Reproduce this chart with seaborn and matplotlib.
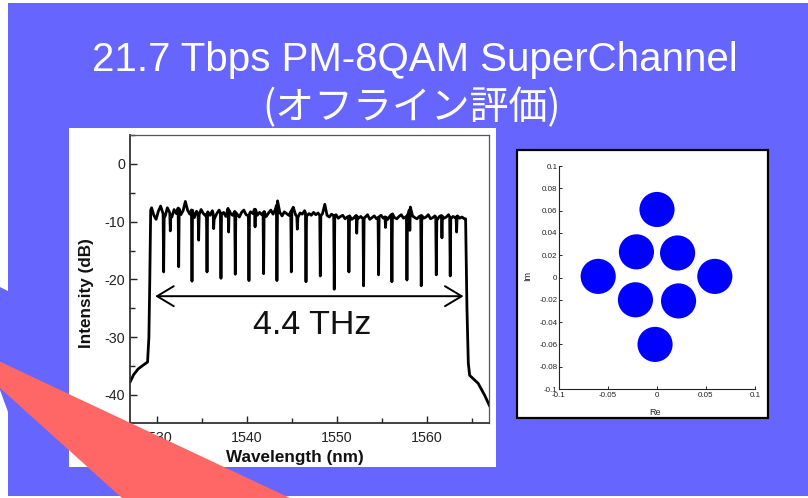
import numpy as np
import pandas as pd
import seaborn as sns
import matplotlib
matplotlib.use("Agg")
import matplotlib.pyplot as plt
from matplotlib.patches import Rectangle, Polygon
from matplotlib.ticker import MultipleLocator, FixedLocator, FixedFormatter

# ---------------- data ----------------
title_line1 = "21.7 Tbps PM-8QAM SuperChannel"
title_line2 = "(オフライン評価)"

# spectrum: rising edge, flat top, falling edge (wavelength nm / intensity dB)
rise_wl = [1527.0, 1527.4, 1527.9, 1528.5, 1528.95, 1529.1, 1529.2, 1529.3]
rise_db = [-37.8, -36.5, -35.5, -34.8, -34.3, -30.0, -20.0, -8.0]

plateau_start, plateau_step = 1529.4, 0.25
plateau_db = [
    -7.6, -8.9, -9.6, -8.2, -7.3, -8.5, -9.1, -7.6, -8.4, -9.2, -7.9, -8.6, -7.4,
    -8.8, -8.1, -6.5, -8.0, -8.7, -7.7, -9.3, -8.2, -8.9, -7.9, -8.6, -9.0,
    -8.3, -8.9, -8.1, -9.4, -8.6, -8.0, -8.8, -8.4, -9.1, -7.7, -8.5, -8.9,
    -8.2, -8.7, -9.2, -8.4, -8.0, -8.8, -9.0, -8.3, -8.6, -7.6, -8.9, -8.4,
    -8.8, -8.2, -9.1, -8.5, -8.0, -8.7, -7.9, -6.4, -8.4, -9.0, -8.3, -8.6,
    -8.9, -8.2, -7.5, -8.8, -9.3, -8.5, -8.7, -8.1, -9.0, -8.6, -8.9, -8.4,
    -8.8, -8.5, -9.1, -8.6, -7.0, -8.9, -9.2, -8.7, -9.0, -8.8, -9.4, -9.1,
    -8.9, -9.5, -9.2, -9.0, -9.6, -9.3, -8.9, -9.4, -9.1, -9.5, -9.2, -8.8,
    -9.6, -9.3, -9.0, -9.5, -9.2, -8.9, -9.4, -9.1, -9.6, -9.0, -8.6, -9.3,
    -9.5, -9.1, -8.8, -9.4, -9.2, -8.7, -7.4, -9.0, -9.3, -9.5, -9.1, -8.9,
    -9.4, -9.2, -8.8, -9.5, -9.3, -9.0, -9.6, -9.1, -8.9, -9.4, -9.2, -8.8,
    -9.5, -9.1, -9.3, -9.0, -9.4, -9.2, -9.5,
]

fall_wl = [1564.3, 1564.45, 1564.6, 1564.75, 1565.7, 1566.4, 1567.0]
fall_db = [-9.5, -25.0, -34.5, -36.6, -38.0, -40.0, -42.0]

# deep notches between sub-carriers
dip_wl = [1530.74, 1532.41, 1533.89, 1535.56, 1537.11, 1538.70, 1540.22,
          1541.85, 1543.33, 1544.93, 1546.56, 1548.15, 1549.70, 1551.33,
          1552.96, 1554.63, 1556.11, 1557.78, 1559.37, 1561.04, 1562.59]
dip_db = [-18.7, -17.8, -20.3, -18.7, -19.8, -19.1, -20.2,
          -19.0, -20.2, -18.7, -20.4, -19.4, -21.7, -18.7,
          -21.1, -19.2, -20.4, -20.1, -21.1, -19.2, -19.4]
# shallow notches
small_dip_wl = [1531.48, 1534.63, 1536.3, 1537.96, 1540.9, 1545.6, 1552.2,
                1555.4, 1558.1, 1561.67, 1563.3]
small_dip_db = [-11.6, -13.2, -11.2, -11.8, -10.9, -11.3, -12.0,
                -11.0, -11.5, -12.8, -11.8]

span_label = "4.4 THz"
span_from, span_to, span_level = 1529.8, 1564.07, -22.9

spec_xticks = [1530, 1540, 1550, 1560]
spec_yticks = [0, -10, -20, -30, -40]

# constellation cluster centres (Re, Im)
const_re = [0.000, -0.021, 0.021, -0.060, 0.059, -0.022, 0.022, -0.002]
const_im = [0.061, 0.023, 0.022, 0.001, 0.001, -0.020, -0.021, -0.060]

const_xticks = [-0.1, -0.05, 0, 0.05, 0.1]
const_xlabels = ["-0.1", "-0.05", "0", "0.05", "0.1"]
const_yticks = [0.1, 0.08, 0.06, 0.04, 0.02, 0, -0.02, -0.04, -0.06, -0.08, -0.1]
const_ylabels = ["0.1", "0.08", "0.06", "0.04", "0.02", "0", "-0.02", "-0.04",
                 "-0.06", "-0.08", "-0.1"]

# ---------------- build spectrum table ----------------
plateau_wl = plateau_start + plateau_step * np.arange(len(plateau_db))
all_dip_wl = dip_wl + small_dip_wl
all_dip_db = dip_db + small_dip_db
keep = [all(abs(w - d) > 0.07 for d in all_dip_wl) for w in plateau_wl]
pts = list(zip(rise_wl, rise_db))
pts += [(w, v) for w, v, k in zip(plateau_wl, plateau_db, keep) if k]
pts += list(zip(fall_wl, fall_db))
for w, d in zip(all_dip_wl, all_dip_db):
    pts.append((w - 0.06, float(np.interp(w - 0.06, plateau_wl, plateau_db))))
    pts.append((w, d))
    pts.append((w + 0.06, float(np.interp(w + 0.06, plateau_wl, plateau_db))))
spec = pd.DataFrame(sorted(pts), columns=["wavelength", "intensity"])
const = pd.DataFrame({"Re": const_re, "Im": const_im})

# ---------------- figure ----------------
sns.set_theme(style="white")
plt.rcParams["font.family"] = ["Liberation Sans", "Noto Sans CJK JP", "DejaVu Sans"]
plt.rcParams["axes.unicode_minus"] = False

W, H = 808, 498
fig = plt.figure(figsize=(W / 100, H / 100), dpi=100, facecolor="white")

def fx(x):
    return x / W

def fy(y):
    return 1 - y / H

BLUE = "#6666FF"
RED = "#FF6666"

# slide background
fig.patches.append(Rectangle((fx(8), fy(496)), fx(800), 493 / H, transform=fig.transFigure,
                             facecolor=BLUE, edgecolor="none", zorder=-10))
fig.patches.append(Polygon([(fx(8), fy(291)), (fx(0), fy(287)), (fx(0), fy(390)), (fx(8), fy(412))],
                           closed=True, transform=fig.transFigure, facecolor=BLUE,
                           edgecolor="none", zorder=-10))
# white panel behind spectrum
fig.patches.append(Rectangle((fx(69), fy(467)), fx(427), 339 / H, transform=fig.transFigure,
                             facecolor="white", edgecolor="none", zorder=-5))
# white framed panel behind constellation
fig.patches.append(Rectangle((fx(517), fy(418)), fx(251), 268 / H, transform=fig.transFigure,
                             facecolor="white", edgecolor="black", linewidth=1.6, zorder=-5))

# title
fig.text(fx(415), fy(71), title_line1, ha="center", va="baseline", color="white",
         fontsize=29, family=["Liberation Sans", "DejaVu Sans"])
fig.text(fx(412), fy(108), title_line2, ha="center", va="center", color="white",
         fontsize=28, family=["Noto Sans CJK JP", "DejaVu Sans"])

# ---------------- spectrum ----------------
ax1 = fig.add_axes([fx(130), fy(423), 359 / W, 288 / H])
ax1.set_facecolor("white")
sns.lineplot(data=spec, x="wavelength", y="intensity", sort=False, estimator=None,
             color="black", linewidth=2.0, ax=ax1)
ax1.set_xlim(1527.0, 1566.9)
ax1.set_ylim(-44.85, 5.0)
ax1.xaxis.set_major_locator(FixedLocator(spec_xticks))
ax1.yaxis.set_major_locator(FixedLocator(spec_yticks))
ax1.xaxis.set_minor_locator(MultipleLocator(5))
ax1.yaxis.set_minor_locator(MultipleLocator(5))
ax1.tick_params(which="both", direction="in", top=False, right=False, bottom=True, left=True,
                colors="#222222", labelsize=10.3)
ax1.tick_params(which="major", length=5, width=1.0)
ax1.tick_params(which="minor", length=3.5, width=1.0)
ax1.tick_params(axis="x", pad=6)
ax1.tick_params(axis="y", pad=3.5)
for side in ["left", "bottom"]:
    ax1.spines[side].set_color("#333333")
    ax1.spines[side].set_linewidth(1.3)
for side in ["top", "right"]:
    ax1.spines[side].set_color("#555555")
    ax1.spines[side].set_linewidth(0.9)
ax1.set_xlabel("Wavelength (nm)", fontsize=12.3, fontweight="bold", color="#111111")
ax1.set_ylabel("Intensity (dB)", fontsize=12.3, fontweight="bold", color="#111111")
ax1.xaxis.set_label_coords(0.46, -0.095)
ax1.yaxis.set_label_coords(-0.10, 0.45)

ax1.annotate("", xy=(span_to, span_level), xytext=(span_from, span_level),
             arrowprops=dict(arrowstyle="<->,head_length=0.6,head_width=0.36",
                             lw=1.4, color="black", mutation_scale=20,
                             shrinkA=0, shrinkB=0))
ax1.text(1547.3, -27.9, span_label, ha="center", va="center", fontsize=24.5, color="#111111")

# ---------------- constellation ----------------
ax2 = fig.add_axes([fx(559), fy(389), 196 / W, 223 / H])
ax2.set_facecolor("white")
sns.scatterplot(data=const, x="Re", y="Im", s=640, color="#0000FF",
                edgecolor="none", ax=ax2, legend=False)
ax2.set_xlim(-0.1, 0.1)
ax2.set_ylim(-0.1, 0.1)
ax2.xaxis.set_major_locator(FixedLocator(const_xticks))
ax2.xaxis.set_major_formatter(FixedFormatter(const_xlabels))
ax2.yaxis.set_major_locator(FixedLocator(const_yticks))
ax2.yaxis.set_major_formatter(FixedFormatter(const_ylabels))
ax2.tick_params(direction="in", length=2.5, width=0.7, labelsize=5.8, colors="#222222",
                bottom=True, left=True)
ax2.tick_params(axis="x", pad=2.5)
ax2.tick_params(axis="y", pad=1.0)
ax2.spines["top"].set_visible(False)
ax2.spines["right"].set_visible(False)
for side in ["left", "bottom"]:
    ax2.spines[side].set_color("#222222")
    ax2.spines[side].set_linewidth(0.8)
ax2.set_xlabel("Re", fontsize=6.5, color="#222222")
ax2.set_ylabel("Im", fontsize=6.5, color="#222222")
ax2.xaxis.set_label_coords(0.49, -0.085)
ax2.yaxis.set_label_coords(-0.138, 0.505)

# red wedge on top of everything
fig.patches.append(Polygon([(fx(-10), fy(357)), (fx(290), fy(498)), (fx(122), fy(498)),
                            (fx(-10), fy(379))], closed=True, transform=fig.transFigure,
                           facecolor=RED, edgecolor="none", zorder=20))

fig.savefig("out.png", dpi=100, facecolor="white")
